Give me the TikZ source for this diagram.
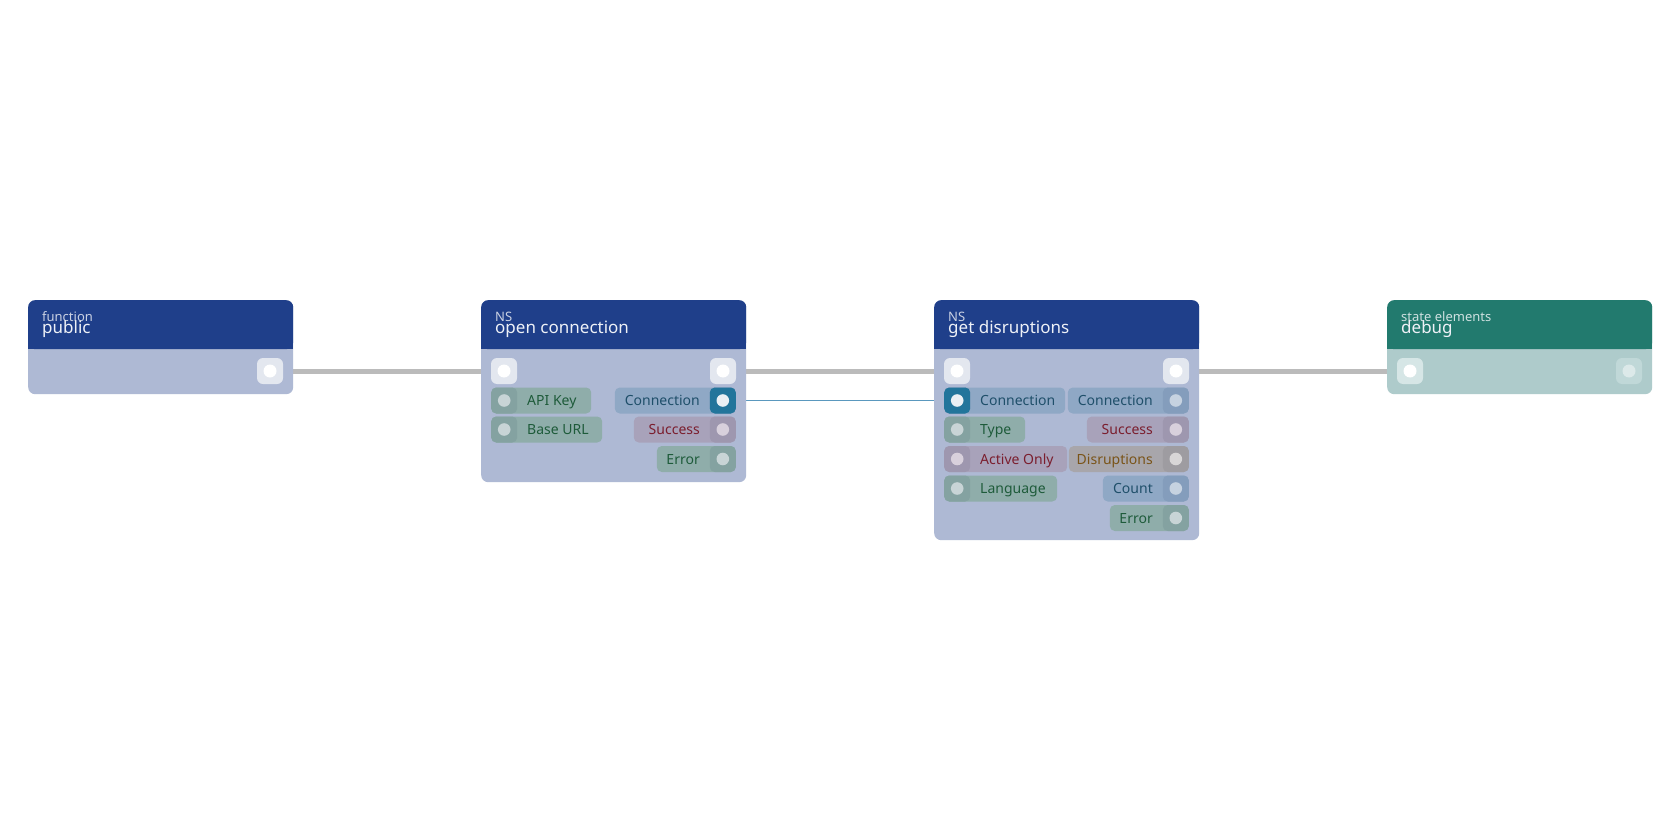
\documentclass[tikz,border=0pt]{standalone}
\usepackage{fontspec}
\setmainfont{Noto Sans}
\usetikzlibrary{backgrounds}
\definecolor{hdrblue}{HTML}{1F3F8A}
\definecolor{bodyblue}{HTML}{AEB9D4}
\definecolor{hdrteal}{HTML}{227A6E}
\definecolor{bodyteal}{HTML}{AECBCB}
\definecolor{ttltxt}{HTML}{EEF1F7}
\definecolor{subtxt}{HTML}{C9D1E3}
\definecolor{flowsq}{HTML}{E3E7EF}
\definecolor{flowsqteal}{HTML}{D6E6E6}
\definecolor{flowsqfaint}{HTML}{C0D8D8}
\definecolor{flowdotfaint}{HTML}{DCE9E9}
\definecolor{greenpill}{HTML}{8FADAA}
\definecolor{greensock}{HTML}{84A2A1}
\definecolor{greendot}{HTML}{C8D4D6}
\definecolor{greentxt}{HTML}{1E5B3A}
\definecolor{bluepill}{HTML}{8FA8C5}
\definecolor{bluesock}{HTML}{849DBC}
\definecolor{bluedot}{HTML}{C6D2E0}
\definecolor{bluetxt}{HTML}{1F4F6A}
\definecolor{pinkpill}{HTML}{A8A2BA}
\definecolor{pinksock}{HTML}{9E97AF}
\definecolor{pinkdot}{HTML}{D8D0DC}
\definecolor{pinktxt}{HTML}{7B1E2E}
\definecolor{tanpill}{HTML}{A8A6AB}
\definecolor{tansock}{HTML}{9E9CA1}
\definecolor{tandot}{HTML}{D8D6D7}
\definecolor{tantxt}{HTML}{7A5418}
\definecolor{hlsock}{HTML}{22759B}
\definecolor{hldot}{HTML}{EAF0F4}
\definecolor{flowline}{HTML}{BBBBBB}
\definecolor{dataline}{HTML}{5A98BE}
\tikzset{
  cardbody/.style={rectangle, rounded corners=7pt, inner sep=0pt, anchor=north west},
  cardhdr/.style={rectangle, rounded corners=7pt, inner sep=0pt, anchor=north west, minimum height=49pt},
  flowport/.style={rectangle, rounded corners=6pt, minimum size=26pt, inner sep=0pt, fill=flowsq},
  flowdot/.style={circle, minimum size=13pt, inner sep=0pt, fill=white},
  pill/.style={rectangle, rounded corners=5pt, minimum height=26pt, inner sep=0pt},
  sock/.style={rectangle, rounded corners=5pt, minimum size=26pt, inner sep=0pt},
  dot/.style={circle, minimum size=12.6pt, inner sep=0pt},
  lbl/.style={inner sep=0pt, font=\fontsize{14}{14}\selectfont, text height=10pt, text depth=0pt},
  subttl/.style={inner sep=0pt, anchor=base west, text=subtxt, font=\fontsize{13}{13}\selectfont},
  mainttl/.style={inner sep=0pt, anchor=base west, text=ttltxt, font=\fontsize{17}{17}\selectfont},
  flowconn/.style={draw=flowline, line width=5pt},
  dataconn/.style={draw=dataline, line width=1.8pt},
}
\newcommand\inport[6]{%
  \pgfmathsetmacro\pw{#3-#2}%
  \node[pill, fill=#5pill, minimum width=\pw pt, anchor=west] (#1) at (#2,#4) {};
  \node[sock, fill=#5sock, anchor=west] (#1s) at (#2,#4) {};
  \node[dot, fill=#5dot] (#1d) at (#1s.center) {};
  \node[lbl, text=#5txt, anchor=west] (#1t) at ([xshift=36pt]#1.west) {#6};
}
\newcommand\outport[6]{%
  \pgfmathsetmacro\pw{#3-#2}%
  \node[pill, fill=#5pill, minimum width=\pw pt, anchor=east] (#1) at (#3,#4) {};
  \node[sock, fill=#5sock, anchor=east] (#1s) at (#3,#4) {};
  \node[dot, fill=#5dot] (#1d) at (#1s.center) {};
  \node[lbl, text=#5txt, anchor=east] (#1t) at ([xshift=-36pt]#1.east) {#6};
}
\newcommand\hlport[1]{%
  \node[sock, fill=hlsock] (#1h) at (#1s.center) {};
  \node[dot, fill=hldot] (#1hd) at (#1s.center) {};
}
\begin{document}
\begin{tikzpicture}[x=1pt,y=-1pt]
\begin{pgfonlayer}{background}
\fill[white] (0,0) rectangle (1680,840);
\end{pgfonlayer}
\useasboundingbox (0,0) rectangle (1680,840);

% ---- card 1: function / public
\node[cardbody, fill=bodyblue, minimum width=265pt, minimum height=94pt] (c1) at (28,300) {};
\node[cardhdr, fill=hdrblue, minimum width=265pt] (c1h) at (28,300) {};
\fill[hdrblue] (28,330) rectangle (293,349);
\node[subttl] (c1sub) at (42,321.5) {function};
\node[mainttl] (c1ttl) at (42,333.5) {public};
\node[flowport] (c1out) at (270,371) {};
\node[flowdot] (c1outd) at (270,371) {};

% ---- card 2: NS / open connection
\node[cardbody, fill=bodyblue, minimum width=265pt, minimum height=182pt] (c2) at (481,300) {};
\node[cardhdr, fill=hdrblue, minimum width=265pt] (c2h) at (481,300) {};
\fill[hdrblue] (481,330) rectangle (746,349);
\node[subttl] (c2sub) at (495,321.5) {NS};
\node[mainttl] (c2ttl) at (495,333.5) {open connection};
\node[flowport] (c2in) at (504,371) {};
\node[flowdot] (c2ind) at (504,371) {};
\node[flowport] (c2out) at (723,371) {};
\node[flowdot] (c2outd) at (723,371) {};
\inport{c2apikey}{491}{591}{400.5}{green}{API Key}
\inport{c2baseurl}{491}{602}{429.5}{green}{Base URL}
\outport{c2conn}{615}{736}{400.5}{blue}{Connection}
\hlport{c2conn}
\outport{c2succ}{634}{736}{429.5}{pink}{Success}
\outport{c2err}{657}{736}{459}{green}{Error}

% ---- card 3: NS / get disruptions
\node[cardbody, fill=bodyblue, minimum width=265pt, minimum height=240pt] (c3) at (934,300) {};
\node[cardhdr, fill=hdrblue, minimum width=265pt] (c3h) at (934,300) {};
\fill[hdrblue] (934,330) rectangle (1199,349);
\node[subttl] (c3sub) at (948,321.5) {NS};
\node[mainttl] (c3ttl) at (948,333.5) {get disruptions};
\node[flowport] (c3in) at (957,371) {};
\node[flowdot] (c3ind) at (957,371) {};
\node[flowport] (c3out) at (1176,371) {};
\node[flowdot] (c3outd) at (1176,371) {};
\inport{c3conn}{944}{1065}{400.5}{blue}{Connection}
\hlport{c3conn}
\inport{c3type}{944}{1025}{429.5}{green}{Type}
\inport{c3active}{944}{1067}{459}{pink}{Active Only}
\inport{c3lang}{944}{1057}{488.5}{green}{Language}
\outport{c3connout}{1068}{1189}{400.5}{blue}{Connection}
\outport{c3succ}{1087}{1189}{429.5}{pink}{Success}
\outport{c3disr}{1069}{1189}{459}{tan}{Disruptions}
\outport{c3count}{1103}{1189}{488.5}{blue}{Count}
\outport{c3err}{1110}{1189}{518}{green}{Error}

% ---- card 4: state elements / debug
\node[cardbody, fill=bodyteal, minimum width=265pt, minimum height=94pt] (c4) at (1387,300) {};
\node[cardhdr, fill=hdrteal, minimum width=265pt] (c4h) at (1387,300) {};
\fill[hdrteal] (1387,330) rectangle (1652,349);
\node[subttl, text=bodyteal!60!white] (c4sub) at (1401,321.5) {state elements};
\node[mainttl] (c4ttl) at (1401,333.5) {debug};
\node[flowport, fill=flowsqteal] (c4in) at (1410,371) {};
\node[flowdot] (c4ind) at (1410,371) {};
\node[flowport, fill=flowsqfaint] (c4out) at (1629,371) {};
\node[flowdot, fill=flowdotfaint] (c4outd) at (1629,371) {};

% ---- connectors (behind the cards)
\begin{pgfonlayer}{background}
\draw[flowconn] (c1out.center) -- (c2in.center);
\draw[flowconn] (c2out.center) -- (c3in.center);
\draw[flowconn] (c3out.center) -- (c4in.center);
\draw[dataconn] (c2conns.center) -- (c3conns.center);
\end{pgfonlayer}
\end{tikzpicture}
\end{document}
